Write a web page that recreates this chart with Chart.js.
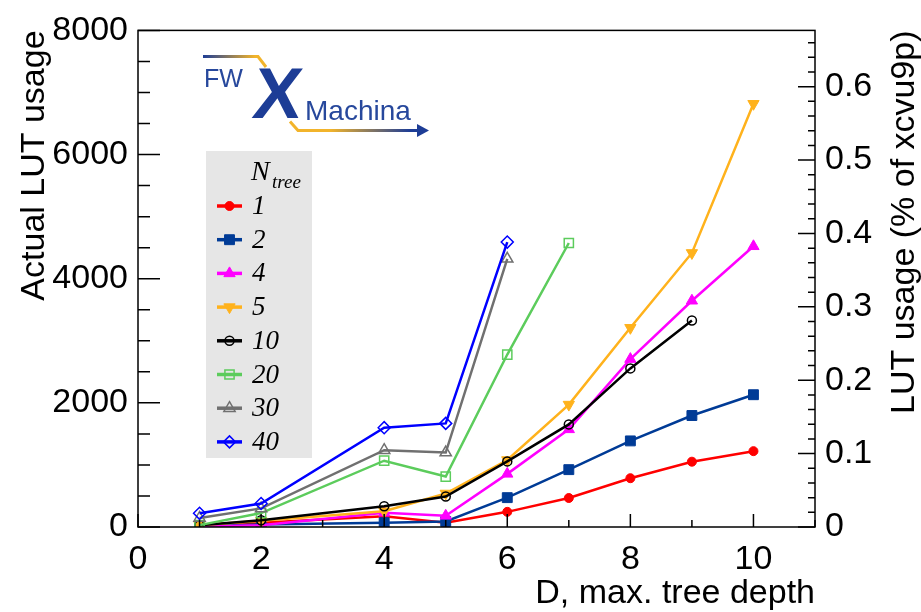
<!DOCTYPE html>
<html><head><meta charset="utf-8">
<script src="https://cdn.jsdelivr.net/npm/chart.js@4.4.1/dist/chart.umd.min.js"></script>
<style>html,body{margin:0;padding:0;background:#fff;}#wrap{width:921px;height:612px;position:relative;}</style>
</head><body><div id="wrap"><canvas id="c" width="921" height="612"></canvas></div>
<script>
// ---- data ----
const depth = [1, 2, 4, 5, 6, 7, 8, 9, 10];
const nTreeLabels = ['1', '2', '4', '5', '10', '20', '30', '40'];
const lutN1  = [20, 70, 175, 70, 244, 467, 786, 1052, 1222];
const lutN2  = [15, 40, 70, 90, 473, 924, 1387, 1796, 2131];
const lutN4  = [10, 30, 230, 180, 856, 1573, 2705, 3645, 4522];
const lutN5  = [30, 100, 255, 540, 1079, 1972, 3209, 4415, 6818];
const lutN10 = [30, 110, 335, 490, 1057, 1653, 2555, 3327];
const lutN20 = [30, 225, 1068, 813, 2778, 4575];
const lutN30 = [145, 300, 1238, 1200, 4320];
const lutN40 = [220, 378, 1600, 1669, 4590];
const xTickLabels = [0, 2, 4, 6, 8, 10];
const yTickLabels = [0, 2000, 4000, 6000, 8000];
const pctTickLabels = [0, 0.1, 0.2, 0.3, 0.4, 0.5, 0.6];
const totalLUT = 1182240; // xcvu9p
const xTitle = 'D, max. tree depth';
const yTitle = 'Actual LUT usage';
const y2Title = 'LUT usage (% of xcvu9p)';

const FONT = '"Liberation Sans", Arial, sans-serif';
const SERIF = '"Liberation Serif", "Times New Roman", serif';

const series = [lutN1, lutN2, lutN4, lutN5, lutN10, lutN20, lutN30, lutN40];
const styles = [
  {color: '#ff0000', style: 'circle', radius: 4.5, fill: true, rot: 0},
  {color: '#003b96', style: 'rect', radius: 7, fill: true, rot: 0},
  {color: '#ff00ff', style: 'triangle', radius: 6.5, fill: true, rot: 0},
  {color: '#ffb21c', style: 'triangle', radius: 6.5, fill: true, rot: 180},
  {color: '#000000', style: 'circle', radius: 4.5, fill: false, rot: 0},
  {color: '#5ccc5c', style: 'rect', radius: 6.5, fill: false, rot: 0},
  {color: '#707070', style: 'triangle', radius: 6.5, fill: false, rot: 0},
  {color: '#0000ff', style: 'rectRot', radius: 6, fill: false, rot: 0}
];

const datasets = series.map((vals, i) => {
  const s = styles[i];
  return {
    label: nTreeLabels[i],
    data: vals.map((v, j) => ({x: depth[j], y: v})),
    borderColor: s.color,
    borderWidth: 2.5,
    tension: 0,
    pointStyle: s.style,
    pointRotation: s.rot,
    pointRadius: s.radius,
    pointBackgroundColor: s.fill ? s.color : 'rgba(0,0,0,0)',
    pointBorderColor: s.color,
    pointBorderWidth: s.fill ? 1 : 1.5,
    order: 8 - i,
    yAxisID: 'y'
  };
});

function range(a, b, step) { const r = []; const n = Math.round((b - a) / step); for (let i = 0; i <= n; i++) r.push(Math.round((a + i * step) * 1e6) / 1e6); return r; }
function near(arr, v) { return arr.some(t => Math.abs(t - v) < 1e-6); }

const overlay = {
  id: 'overlay',
  afterDatasetsDraw(chart) {
    const {ctx, chartArea: a, scales} = chart;
    ctx.save();
    // frame
    ctx.strokeStyle = '#000'; ctx.lineWidth = 1.5;
    ctx.strokeRect(a.left, a.top, a.right - a.left, a.bottom - a.top);
    ctx.beginPath();
    scales.x.ticks.forEach(t => {
      const px = scales.x.getPixelForValue(t.value);
      const len = t.label !== '' ? 13 : 7;
      ctx.moveTo(px, a.bottom); ctx.lineTo(px, a.bottom - len);
    });
    scales.y.ticks.forEach(t => {
      const py = scales.y.getPixelForValue(t.value);
      const len = t.label !== '' ? 22 : 12;
      ctx.moveTo(a.left, py); ctx.lineTo(a.left + len, py);
    });
    scales.y2.ticks.forEach(t => {
      const py = scales.y2.getPixelForValue(t.value);
      const len = t.label !== '' ? 17 : 7;
      ctx.moveTo(a.right, py); ctx.lineTo(a.right - len, py);
    });
    ctx.stroke();

    // legend
    const lx = 206, ly = 151, lw = 106, lh = 307;
    ctx.fillStyle = '#e6e6e6';
    ctx.fillRect(lx, ly, lw, lh);
    ctx.fillStyle = '#000';
    ctx.textBaseline = 'alphabetic'; ctx.textAlign = 'left';
    ctx.font = 'italic 28px ' + SERIF;
    ctx.fillText('N', 251, 180);
    ctx.font = 'italic 19px ' + SERIF;
    ctx.fillText('tree', 272, 188);
    chart.data.datasets.forEach((ds, i) => {
      const cy = 206 + i * 33.7;
      ctx.strokeStyle = ds.borderColor; ctx.lineWidth = 3.5;
      ctx.beginPath(); ctx.moveTo(217, cy); ctx.lineTo(242, cy); ctx.stroke();
      ctx.fillStyle = ds.pointBackgroundColor; ctx.strokeStyle = ds.pointBorderColor;
      ctx.lineWidth = ds.pointBorderWidth;
      if (Chart.helpers && Chart.helpers.drawPoint) {
        Chart.helpers.drawPoint(ctx, {pointStyle: ds.pointStyle, rotation: ds.pointRotation, radius: ds.pointRadius, borderWidth: ds.pointBorderWidth}, 229.5, cy);
      }
      ctx.fillStyle = '#000';
      ctx.font = 'italic 27px ' + SERIF;
      ctx.textBaseline = 'middle';
      ctx.fillText(ds.label, 252, cy + 1);
    });

    // axis titles
    ctx.fillStyle = '#000';
    ctx.font = '34px ' + FONT;
    ctx.textBaseline = 'alphabetic';
    ctx.textAlign = 'right';
    ctx.fillText(xTitle, a.right, 603);
    ctx.save(); ctx.translate(44, a.top); ctx.rotate(-Math.PI / 2);
    ctx.fillText(yTitle, 0, 0); ctx.restore();
    ctx.save(); ctx.translate(914, a.top); ctx.rotate(-Math.PI / 2);
    ctx.fillText(y2Title, 0, 0); ctx.restore();

    // logo
    const blue = '#1d3d96', gold = '#f2b42b';
    let g = ctx.createLinearGradient(203, 0, 255, 0);
    g.addColorStop(0, blue); g.addColorStop(1, gold);
    ctx.strokeStyle = g; ctx.lineWidth = 3;
    ctx.beginPath(); ctx.moveTo(203, 56.5); ctx.lineTo(258, 56.5); ctx.lineTo(266, 67); ctx.stroke();
    g = ctx.createLinearGradient(330, 0, 410, 0);
    g.addColorStop(0, gold); g.addColorStop(1, blue);
    ctx.strokeStyle = g;
    ctx.beginPath(); ctx.moveTo(290, 121.5); ctx.lineTo(298, 130.5); ctx.lineTo(420, 130.5); ctx.stroke();
    ctx.fillStyle = blue;
    ctx.beginPath(); ctx.moveTo(429, 130.5); ctx.lineTo(417, 124); ctx.lineTo(417, 137); ctx.closePath(); ctx.fill();
    ctx.textAlign = 'left';
    ctx.fillStyle = '#27489c';
    ctx.font = '25px ' + FONT;
    ctx.fillText('FW', 204, 87);
    ctx.font = '28px ' + FONT;
    ctx.fillText('Machina', 305, 120);
    ctx.fillStyle = blue;
    ctx.save();
    ctx.translate(251, 118);
    ctx.transform(1, 0, -0.12, 1, 0, 0);
    ctx.font = 'bold 72px ' + FONT;
    ctx.fillText('X', 0, 0);
    ctx.restore();
    ctx.restore();
  }
};

const tickFont = {family: FONT, size: 34};
new Chart(document.getElementById('c'), {
  type: 'line',
  data: {datasets},
  options: {
    responsive: false,
    animation: false,
    devicePixelRatio: 1,
    layout: {padding: {top: 25, left: 0, right: 0, bottom: 0}},
    plugins: {legend: {display: false}, tooltip: {enabled: false}},
    scales: {
      x: {
        type: 'linear', min: 0, max: 11,
        afterBuildTicks: s => { s.ticks = range(0, 11, 1).map(v => ({value: v})); },
        afterFit: s => { s.height = 85; },
        grid: {display: false, drawTicks: false}, border: {display: false},
        ticks: {autoSkip: false, maxRotation: 0, minRotation: 0, padding: 12, color: '#000', font: tickFont,
          callback: v => near(xTickLabels, v) ? String(v) : ''}
      },
      y: {
        type: 'linear', position: 'left', min: 0, max: 8000,
        afterBuildTicks: s => { s.ticks = range(0, 8000, 500).map(v => ({value: v})); },
        afterFit: s => { s.width = 138; },
        grid: {display: false, drawTicks: false}, border: {display: false},
        ticks: {autoSkip: false, padding: 10, color: '#000', font: tickFont,
          callback: v => near(yTickLabels, v) ? String(v) : ''}
      },
      y2: {
        type: 'linear', position: 'right', min: 0, max: 8000 / totalLUT * 100,
        afterBuildTicks: s => { s.ticks = range(0, 0.66, 0.02).map(v => ({value: v})); },
        afterFit: s => { s.width = 106; },
        grid: {display: false, drawTicks: false}, border: {display: false},
        ticks: {autoSkip: false, padding: 10, color: '#000', font: tickFont,
          callback: v => near(pctTickLabels, v) ? (v === 0 ? '0' : v.toFixed(1)) : ''}
      }
    }
  },
  plugins: [overlay]
});
</script></body></html>
